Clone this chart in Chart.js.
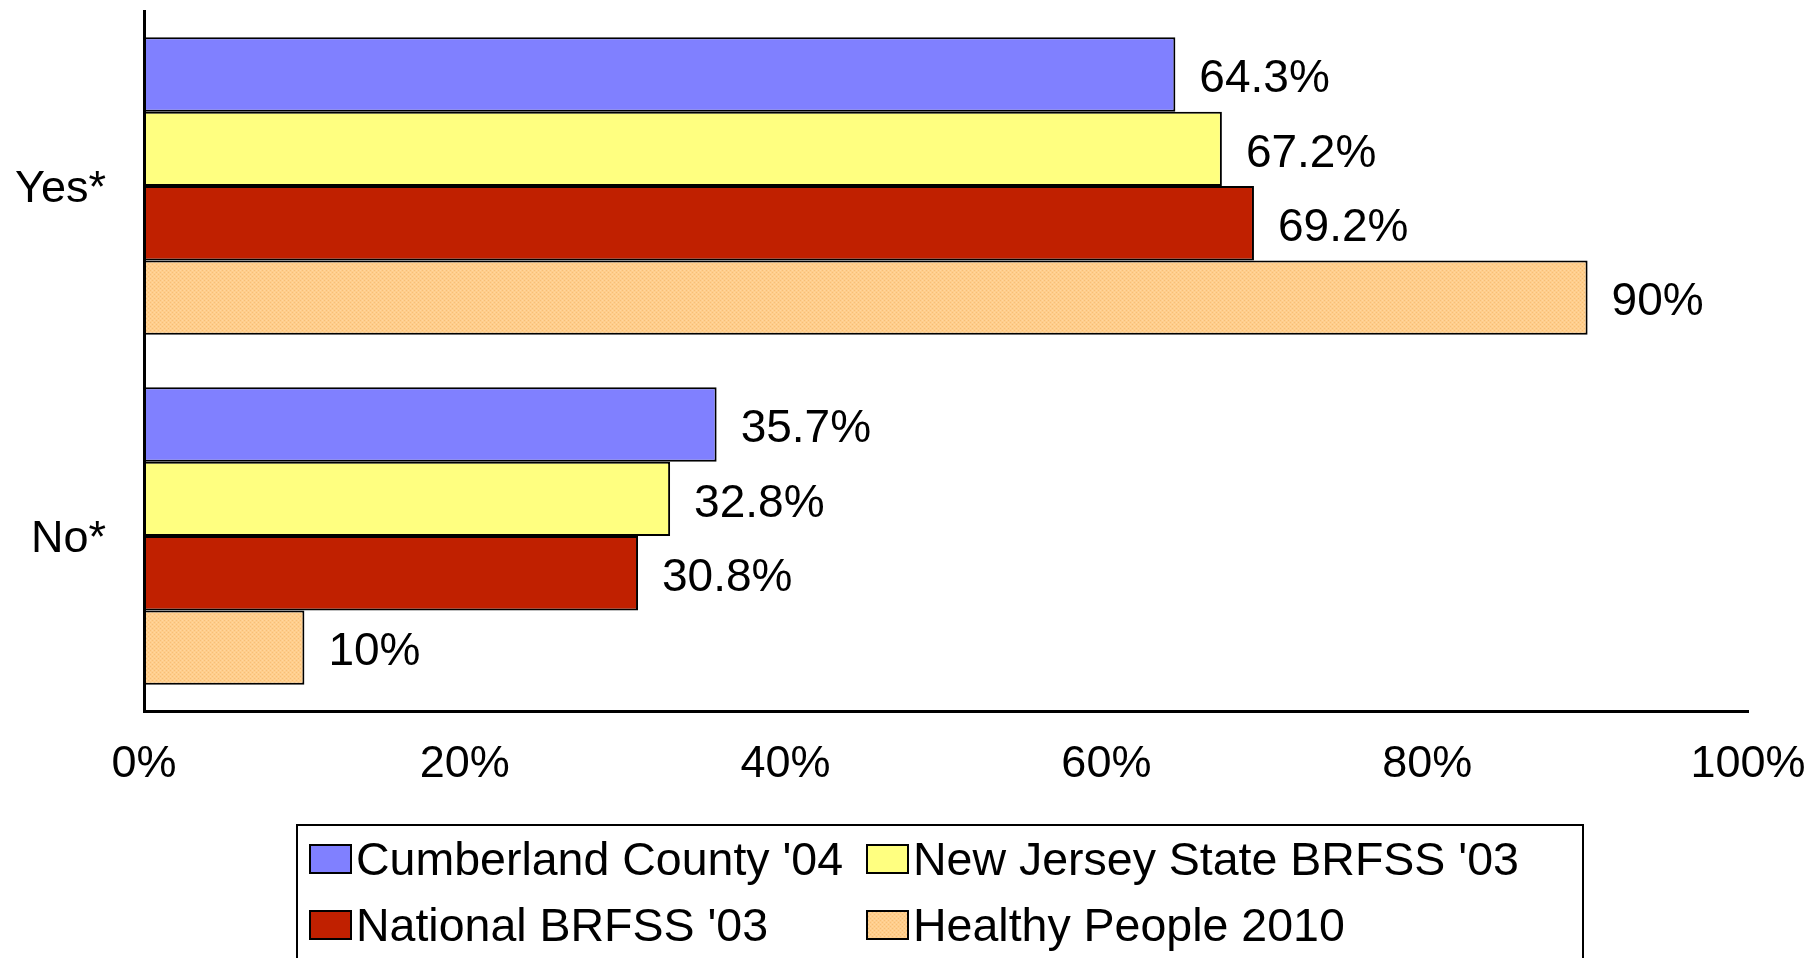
<!DOCTYPE html>
<html>
<head>
<meta charset="utf-8">
<script src="https://cdn.jsdelivr.net/npm/chart.js@4"></script>
<style>
html,body{margin:0;padding:0;background:#fff;}
#wrap{width:1808px;height:958px;position:relative;overflow:hidden;}
canvas{display:block;}
</style>
</head>
<body>
<div id="wrap"><canvas id="c" width="1808" height="958"></canvas></div>
<script>
const categories = ['Yes*', 'No*'];
const seriesNames = ["Cumberland County '04", "New Jersey State BRFSS '03", "National BRFSS '03", "Healthy People 2010"];
const cumberland = [64.3, 35.7];
const newJersey = [67.2, 32.8];
const national = [69.2, 30.8];
const healthyPeople = [90, 10];
const xTickValues = [0, 20, 40, 60, 80, 100];

const FONT = '"Liberation Sans", Arial, sans-serif';

function makePattern() {
  const p = document.createElement('canvas');
  p.width = 4; p.height = 4;
  const g = p.getContext('2d');
  g.fillStyle = 'rgb(255,206,140)';
  g.fillRect(0, 0, 4, 4);
  g.fillStyle = 'rgb(246,190,120)';
  g.fillRect(0, 0, 1, 1); g.fillRect(2, 2, 1, 1);
  g.fillStyle = 'rgb(255,214,160)';
  g.fillRect(2, 0, 1, 1); g.fillRect(0, 2, 1, 1);
  return document.getElementById('c').getContext('2d').createPattern(p, 'repeat');
}
const orangeFill = makePattern();

const colors = ['#8080FF', '#FFFF80', '#C02000', orangeFill];
const seriesValues = [cumberland, newJersey, national, healthyPeople];

const datasets = seriesNames.map((name, i) => ({
  label: name,
  data: seriesValues[i],
  backgroundColor: colors[i],
  borderColor: '#000',
  borderWidth: 2,
  borderSkipped: false,
  categoryPercentage: 0.85,
  barPercentage: 1.0
}));

const valueLabels = {
  id: 'valueLabels',
  afterDatasetsDraw(chart) {
    const ctx = chart.ctx;
    ctx.save();
    ctx.font = '46px ' + FONT;
    ctx.fillStyle = '#000';
    ctx.textAlign = 'left';
    ctx.textBaseline = 'middle';
    chart.data.datasets.forEach((ds, di) => {
      const meta = chart.getDatasetMeta(di);
      meta.data.forEach((el, i) => {
        ctx.fillText(ds.data[i] + '%', el.x + 24, el.y + 5);
      });
    });
    ctx.restore();
  }
};

const gridLegend = {
  id: 'gridLegend',
  afterDraw(chart) {
    const ctx = chart.ctx;
    ctx.save();
    ctx.strokeStyle = '#000';
    ctx.lineWidth = 2;
    ctx.strokeRect(297, 825, 1286, 150);
    const colX = [310, 867];
    const rowBase = [875, 941];
    ctx.font = '46.5px ' + FONT;
    ctx.textBaseline = 'alphabetic';
    ctx.textAlign = 'left';
    chart.data.datasets.forEach((ds, i) => {
      const cx = colX[i % 2];
      const by = rowBase[Math.floor(i / 2)];
      ctx.fillStyle = ds.backgroundColor;
      ctx.fillRect(cx, by - 30, 41, 28);
      ctx.lineWidth = 2;
      ctx.strokeStyle = '#000';
      ctx.strokeRect(cx, by - 30, 41, 28);
      ctx.fillStyle = '#000';
      ctx.fillText(ds.label, cx + 46, by);
    });
    ctx.restore();
  }
};

function zeroPad(scale) {
  scale.paddingLeft = 0; scale.paddingRight = 0;
  scale.paddingTop = 0; scale.paddingBottom = 0;
}

new Chart(document.getElementById('c'), {
  type: 'bar',
  data: { labels: categories, datasets },
  options: {
    indexAxis: 'y',
    responsive: false,
    animation: false,
    devicePixelRatio: 1,
    layout: { padding: { top: 11, right: 60, bottom: 167, left: 0 } },
    plugins: {
      legend: { display: false },
      tooltip: { enabled: false },
      title: { display: false }
    },
    scales: {
      x: {
        min: 0, max: 100,
        afterBuildTicks(scale) { scale.ticks = xTickValues.map(v => ({ value: v })); },
        ticks: {
          callback: v => v + '%',
          font: { size: 45, family: FONT },
          color: '#000',
          padding: 27,
          maxRotation: 0,
          autoSkip: false
        },
        grid: { display: false, drawTicks: false },
        border: { display: true, color: '#000', width: 3 },
        afterFit(scale) { scale.height = 80; zeroPad(scale); }
      },
      y: {
        ticks: {
          font: { size: 45, family: FONT },
          color: '#000',
          padding: 38,
          labelOffset: 4
        },
        grid: { display: false, drawTicks: false },
        border: { display: true, color: '#000', width: 3 },
        afterFit(scale) { scale.width = 144; zeroPad(scale); }
      }
    }
  },
  plugins: [valueLabels, gridLegend]
});
</script>
</body>
</html>
